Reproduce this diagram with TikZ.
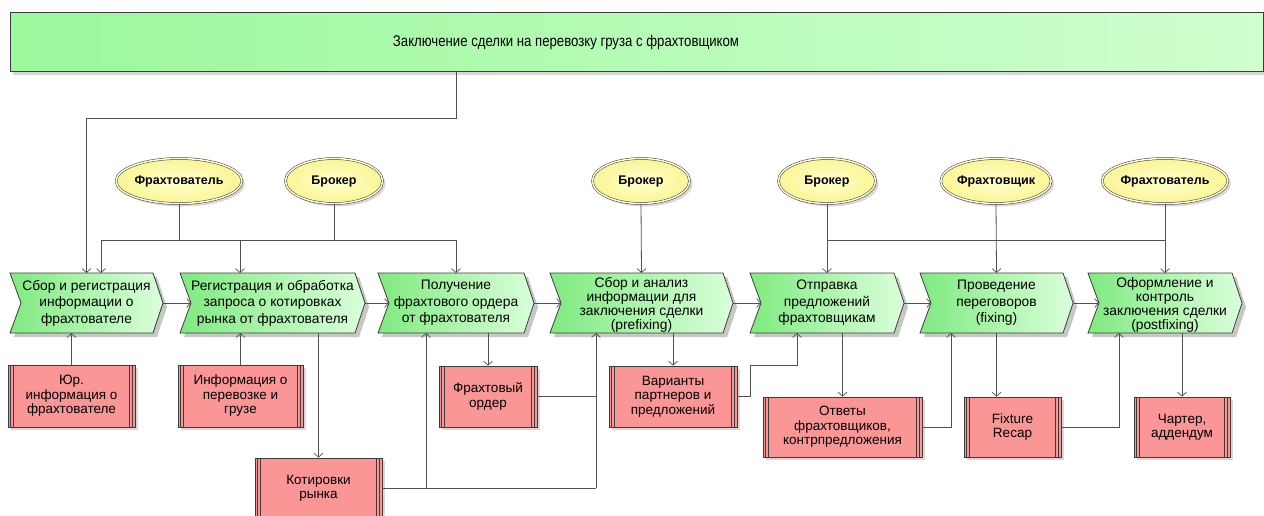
\documentclass[tikz,border=0pt]{standalone}
\usepackage{fontspec}
\setmainfont{Liberation Sans}
\usetikzlibrary{arrows.meta,shadows,shapes.geometric,calc}
\definecolor{lineC}{RGB}{80,80,80}
\definecolor{edgeC}{RGB}{60,60,60}
\definecolor{bannerL}{RGB}{155,248,155}
\definecolor{bannerR}{RGB}{208,255,208}
\definecolor{procL}{RGB}{128,234,128}
\definecolor{procR}{RGB}{218,255,218}
\definecolor{dataF}{RGB}{250,150,150}
\definecolor{ellIn}{RGB}{255,255,205}
\definecolor{ellOut}{RGB}{250,245,150}
\definecolor{ellD}{RGB}{255,255,215}
\tikzset{
  conn/.style={draw=lineC, line width=0.8pt},
  arr/.style={conn, -{Straight Barb[length=4pt,width=9pt,line width=0.7pt]}},
  procgeom/.style={inner sep=0pt, outer sep=0pt, minimum height=60pt},
  proctext/.style={align=center, font=\fontsize{13.8}{16.5}\selectfont, inner sep=0pt},
  fourlines/.style={font=\fontsize{13.8}{14.2}\selectfont, yshift=-2pt},
  databox/.style={draw=edgeC, line width=0.8pt, fill=dataF, align=center,
    font=\fontsize{13.5}{14.5}\selectfont, inner sep=0pt,
    drop shadow={shadow xshift=3pt, shadow yshift=-3pt, opacity=0.3}},
  actor/.style={ellipse, draw=edgeC, line width=0.5pt, double=ellD, double distance=1.5pt,
    inner color=ellIn, outer color=ellOut, inner sep=0pt, minimum height=45pt,
    font=\bfseries\fontsize{12.5}{14}\selectfont,
    drop shadow={shadow xshift=3pt, shadow yshift=-3pt, opacity=0.3}},
  bannerbox/.style={draw=edgeC, line width=0.8pt, left color=bannerL, right color=bannerR,
    inner sep=0pt, drop shadow={shadow xshift=3pt, shadow yshift=-4pt, opacity=0.3}},
  dline/.style={draw=edgeC, line width=0.5pt}
}
\newcommand\procshape[5][]{%
  \fill[black, opacity=0.22] (#3+4,277) -- (#4-6,277) -- (#4+4,307) -- (#4-6,337) -- (#3+4,337) -- (#3+15,307) -- cycle;
  \shade[left color=procL, right color=procR, draw=edgeC, line width=0.8pt]
    (#3,273) -- (#4-10,273) -- (#4,303) -- (#4-10,333) -- (#3,333) -- (#3+11,303) -- cycle;
  \node[procgeom, minimum width={#4-#3}] (#2) at ({(#3+#4)/2},303) {};
  \node[proctext,#1] (#2t) at (#2.center) {#5};
}
\newcommand\dlines[1]{%
  \draw[dline] ([xshift=3pt]#1.north west) -- ([xshift=3pt]#1.south west)
    ([xshift=6pt]#1.north west) -- ([xshift=6pt]#1.south west)
    ([xshift=-3pt]#1.north east) -- ([xshift=-3pt]#1.south east)
    ([xshift=-6pt]#1.north east) -- ([xshift=-6pt]#1.south east);
}
\begin{document}
\begin{tikzpicture}[x=1pt,y=-1pt]
\useasboundingbox (0,0) rectangle (1264,515);
\fill[white] (0,0) rectangle (1264,515);
\clip (0,0) rectangle (1264,515);

% banner
\node[bannerbox, minimum width=1253pt, minimum height=59pt] (B) at (636.5,41.5) {};
\node[font=\fontsize{15.5}{17}\selectfont, inner sep=0pt] (Bt) at (566,42) {\scalebox{0.85}[1]{Заключение сделки на перевозку груза с фрахтовщиком}};

% actors
\node[actor, minimum width=124pt] (E1) at (179,181) {Фрахтователь};
\node[actor, minimum width=97pt] (E2) at (334,181) {Брокер};
\node[actor, minimum width=97pt] (E3) at (641,181) {Брокер};
\node[actor, minimum width=97pt] (E4) at (827,181) {Брокер};
\node[actor, minimum width=97pt] (E5) at (996,181) {Фрахтовщик};
\node[actor, minimum width=124pt] (E6) at (1165,181) {Фрахтователь};

% processes
\procshape{P1}{10}{163}{Сбор и регистрация\\информации о\\фрахтователе}
\procshape{P2}{180}{365}{Регистрация и обработка\\запроса о котировках\\рынка от фрахтователя}
\procshape{P3}{378}{534}{Получение\\фрахтового ордера\\от фрахтователя}
\procshape[fourlines]{P4}{550}{733}{Сбор и анализ\\информации для\\заключения сделки\\(prefixing)}
\procshape{P5}{750}{904}{Отправка\\предложений\\фрахтовщикам}
\procshape{P6}{920}{1073}{Проведение\\переговоров\\(fixing)}
\procshape[fourlines]{P7}{1088}{1242}{Оформление и\\контроль\\заключения сделки\\(postfixing)}

% data
\node[databox, minimum width=127pt, minimum height=62pt] (D1) at (71.5,396) {Юр.\\информация о\\фрахтователе};
\node[databox, minimum width=125pt, minimum height=62pt] (D2) at (240.5,396) {Информация о\\перевозке и\\грузе};
\node[databox, minimum width=127pt, minimum height=60pt] (D3) at (318.5,488) {Котировки\\рынка};
\node[databox, minimum width=98pt, minimum height=61pt] (D4) at (488,396.5) {Фрахтовый\\ордер};
\node[databox, minimum width=128pt, minimum height=61pt] (D5) at (673,396.5) {Варианты\\партнеров и\\предложений};
\node[databox, minimum width=159pt, minimum height=60pt] (D6) at (842.5,427) {Ответы\\фрахтовщиков,\\контрпредложения};
\node[databox, minimum width=97pt, minimum height=60pt] (D7) at (1012.5,427) {Fixture\\Recap};
\node[databox, minimum width=96pt, minimum height=60pt] (D8) at (1182,427) {Чартер,\\аддендум};
\foreach \d in {D1,D2,D3,D4,D5,D6,D7,D8} {\dlines{\d}}

% banner to first process
\draw[arr] (B.south -| P3.north) -- ++(0,47) -| (P1.north);

% actor buses
\coordinate (a1) at (101,240);
\coordinate (a2) at (240,240);
\draw[conn] (a1) -- (a1 -| P3.north);
\draw[conn] (E1.south) -- (E1.south |- a1);
\draw[conn] (E2.south) -- (E2.south |- a1);
\draw[arr] (a1) -- (a1 |- P1.north);
\draw[arr] (a2) -- (a2 |- P2.north);
\draw[arr] (a1 -| P3.north) -- (P3.north);
\draw[arr] (E3.south) -- (P4.north);
\draw[conn] (E4.south) -- (E4.south |- a1) -- (a1 -| E6.south);
\draw[arr] (E4.south |- a1) -- (P5.north);
\draw[arr] (E5.south) -- (P6.north);
\draw[arr] (E6.south) -- (P7.north);

% process chain
\draw[arr] (P1.east) -- ([xshift=11pt]P2.west);
\draw[arr] (P2.east) -- ([xshift=11pt]P3.west);
\draw[arr] (P3.east) -- ([xshift=11pt]P4.west);
\draw[arr] (P4.east) -- ([xshift=11pt]P5.west);
\draw[arr] (P5.east) -- ([xshift=11pt]P6.west);
\draw[arr] (P6.east) -- ([xshift=11pt]P7.west);

% data connectors
\draw[arr] (D1.north) -- (D1.north |- P1.south);
\draw[arr] (D2.north) -- (D2.north |- P2.south);
\draw[arr] (D3.north |- P2.south) -- (D3.north);
\coordinate (c3) at (426,488);
\coordinate (c4) at (596,488);
\draw[conn] (D3.east) -- (c4);
\draw[arr] (c3) -- (c3 |- P3.south);
\draw[arr] (c4) -- (c4 |- P4.south);
\draw[arr] (D4.north |- P3.south) -- (D4.north);
\draw[conn] (D4.east) -- (D4.east -| c4);
\draw[arr] (D5.north |- P4.south) -- (D5.north);
\coordinate (c5) at (797,365);
\draw[arr] (D5.east) -- ++(13,0) |- (c5) -- (c5 |- P5.south);
\draw[arr] (D6.north |- P5.south) -- (D6.north);
\coordinate (c6) at (951,427);
\draw[arr] (D6.east) -- (c6) -- (c6 |- P6.south);
\draw[arr] (P6.south) -- (P6.south |- D7.north);
\coordinate (c7) at (1119,427);
\draw[arr] (D7.east) -- (c7) -- (c7 |- P7.south);
\draw[arr] (D8.north |- P7.south) -- (D8.north);
\end{tikzpicture}
\end{document}
